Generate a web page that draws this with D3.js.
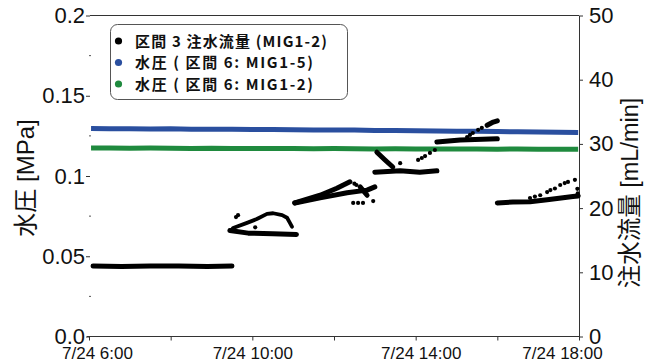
<!DOCTYPE html>
<html>
<head>
<meta charset="utf-8">
<script src="https://cdn.jsdelivr.net/npm/d3@7"></script>
<style>
  html, body { margin: 0; padding: 0; background: #fff; }
  svg { display: block; }
  text { font-family: "Liberation Sans", Arial, "Noto Sans CJK JP", sans-serif; fill: #111; }
</style>
</head>
<body>
<svg id="chart" width="646" height="362"></svg>
<script>
// ---- axis ticks and labels ----
const timeTicks = [6, 8, 10, 12, 14, 16, 18];               // hours on 7/24
const timeLabels = ["7/24 6:00", "", "7/24 10:00", "", "7/24 14:00", "", "7/24 18:00"];
const pressureTicks = [0, 0.05, 0.1, 0.15, 0.2];
const pressureLabels = ["0.0", "0.05", "0.1", "0.15", "0.2"];
const pressureMinor = [0.025, 0.075, 0.125, 0.175];
const flowTicks = [0, 10, 20, 30, 40, 50];

// ---- legend ----
const legendNames = ["区間 3 注水流量 (MIG1-2)", "水圧 ( 区間 6: MIG1-5)", "水圧 ( 区間 6: MIG1-2)"];

// ---- water pressure [MPa] ----
const pressureHours = [6.05, 6.5, 7.0, 7.5, 8.0, 8.5, 9.0, 9.5, 10.0, 10.5, 11.0, 11.5, 12.0,
                       12.5, 13.0, 13.5, 14.0, 14.5, 15.0, 15.5, 16.0, 16.5, 17.0, 17.5, 17.98];
const pressureMIG15 = [0.1296, 0.1295, 0.1295, 0.1293, 0.1294, 0.1292, 0.1291, 0.1291, 0.1289,
                       0.1290, 0.1288, 0.1287, 0.1286, 0.1286, 0.1284, 0.1283, 0.1282, 0.1281,
                       0.1279, 0.1279, 0.1277, 0.1275, 0.1274, 0.1272, 0.1271];
const pressureMIG12 = [0.1174, 0.1175, 0.1173, 0.1174, 0.1173, 0.1172, 0.1173, 0.1171, 0.1172,
                       0.1171, 0.1172, 0.1170, 0.1171, 0.1170, 0.1169, 0.1170, 0.1169, 0.1168,
                       0.1169, 0.1168, 0.1167, 0.1168, 0.1167, 0.1166, 0.1167];

// ---- injection flow rate [mL/min]: dense stretches ----
const flowRunHours = [
  [6.10, 6.8, 7.5, 8.2, 8.9, 9.50],
  [9.45, 9.9, 10.5, 11.08],
  [9.48, 9.53, 9.87, 10.11, 10.36, 10.51, 10.73, 10.85, 10.92, 10.97],
  [11.04, 11.66, 12.07, 12.39],
  [11.04, 11.66, 12.32, 12.81, 13.0],
  [12.64, 12.81],
  [13.0, 13.62, 14.1, 14.52],
  [13.05, 13.25, 13.44],
  [14.52, 15.09, 16.0],
  [15.75, 15.9, 16.0],
  [16.0, 16.38, 16.8, 17.22, 17.61, 17.85, 17.98]
];
const flowRunValues = [
  [11.0, 10.9, 11.0, 11.0, 10.9, 11.0],
  [16.5, 16.1, 16.0, 15.9],
  [16.5, 16.9, 17.7, 18.3, 19.1, 19.2, 18.9, 18.5, 17.7, 17.1],
  [20.8, 22.0, 23.1, 24.1],
  [20.8, 21.6, 22.4, 22.8, 23.3],
  [23.3, 22.0],
  [25.6, 25.8, 25.6, 25.8],
  [28.7, 27.5, 26.4],
  [30.3, 30.6, 30.8],
  [32.9, 33.4, 33.6],
  [20.8, 20.95, 21.0, 21.3, 21.6, 21.8, 21.9]
];
// the rising arch of the second stretch is a thinner trace
const thinRun = 2;

// ---- injection flow rate [mL/min]: sparse readings ----
const flowDotHours = [9.6, 9.65, 10.07,
  12.47, 12.59, 12.71, 12.96, 12.5, 12.55,
  13.62, 14.06, 14.15, 14.23, 14.35, 14.47,
  15.26, 15.33, 15.4, 15.53, 15.62,
  16.8, 16.92, 17.05, 17.22, 17.3, 17.41, 17.54, 17.65, 17.73, 17.9, 17.96, 17.97];
const flowDotValues = [18.6, 18.9, 17.0,
  20.8, 20.8, 20.8, 21.1, 23.8, 23.6,
  27.0, 27.5, 27.8, 28.1, 28.6, 29.05,
  31.07, 31.4, 31.7, 32.2, 32.5,
  21.57, 21.8, 22.0, 22.5, 22.8, 23.05, 23.6, 23.9, 24.07, 24.4, 23.0, 22.3];

// ---- layout ----
const plotL = 89, plotR = 579, plotT = 15.5, plotB = 336.5;
const colBlue = "#2a4f9f", colGreen = "#1f8a3e", colAxis = "#333";

const svg = d3.select("#chart");

const x = d3.scaleLinear().domain([6, 18]).range([plotL, plotR]);
const yP = d3.scaleLinear().domain([0, 0.2]).range([plotB, plotT]);
const yF = d3.scaleLinear().domain([0, 50]).range([plotB, plotT]);

// frame: top border and bottom time axis
svg.append("line").attr("x1", plotL + 1).attr("x2", plotR).attr("y1", plotT).attr("y2", plotT)
  .attr("stroke", colAxis).attr("stroke-width", 1);

const xAxis = d3.axisBottom(x).tickValues(timeTicks).tickSize(4).tickSizeOuter(0)
  .tickFormat((d, i) => timeLabels[i]);
const gx = svg.append("g").attr("transform", `translate(0,${plotB})`).call(xAxis);
gx.select(".domain").attr("stroke", colAxis).attr("d", `M${plotL - 2},0H${plotR}`);
gx.selectAll(".tick line").attr("stroke", colAxis);
const labelShift = [8, 0, 0, 0, 5, 0, -17];
gx.selectAll(".tick text").attr("font-size", 17).attr("y", 10).attr("dy", "0.71em")
  .attr("dx", (d, i) => labelShift[i])
  .style("font-family", '"Liberation Sans", Arial, sans-serif').attr("fill", "#111");

// left pressure axis (ticks only, no spine)
const yAxisL = d3.axisLeft(yP).tickValues(pressureTicks).tickSize(4)
  .tickFormat((d, i) => pressureLabels[i]);
const gl = svg.append("g").attr("transform", `translate(${plotL + 1},0)`).call(yAxisL);
gl.select(".domain").remove();
gl.selectAll(".tick line").attr("stroke", colAxis);
gl.selectAll(".tick text").attr("font-size", 22).attr("x", -5).attr("fill", "#111")
  .style("font-family", '"Liberation Sans", Arial, sans-serif');
svg.append("g").selectAll("line").data(pressureMinor).join("line")
  .attr("x1", plotL).attr("x2", plotL + 2)
  .attr("y1", d => yP(d)).attr("y2", d => yP(d))
  .attr("stroke", "#555").attr("stroke-width", 1);

// right flow axis
const yAxisR = d3.axisRight(yF).tickValues(flowTicks).tickSize(4).tickSizeOuter(0);
const gr = svg.append("g").attr("transform", `translate(${plotR},0)`).call(yAxisR);
gr.select(".domain").attr("stroke", colAxis);
gr.selectAll(".tick line").attr("stroke", colAxis);
gr.selectAll(".tick text").attr("font-size", 22).attr("x", 10).attr("fill", "#111")
  .style("font-family", '"Liberation Sans", Arial, sans-serif');

// axis titles
svg.append("text").attr("transform", `translate(34,178) rotate(-90)`)
  .attr("text-anchor", "middle").attr("font-size", 24).text("水圧 [MPa]");
svg.append("text").attr("transform", `translate(638,193) rotate(-90)`)
  .attr("text-anchor", "middle").attr("font-size", 23.5).text("注水流量 [mL/min]");

// pressure series
const linePressure = vals => d3.line()
  .x((d, i) => x(pressureHours[i])).y(d => yP(d))(vals);
svg.append("path").attr("d", linePressure(pressureMIG15))
  .attr("fill", "none").attr("stroke", colBlue).attr("stroke-width", 5);
svg.append("path").attr("d", linePressure(pressureMIG12))
  .attr("fill", "none").attr("stroke", colGreen).attr("stroke-width", 5);

// flow series
const gFlow = svg.append("g");
flowRunHours.forEach((hrs, k) => {
  const pts = hrs.map((h, i) => [x(h), yF(flowRunValues[k][i])]);
  gFlow.append("path").attr("d", d3.line()(pts))
    .attr("fill", "none").attr("stroke", "#000").attr("stroke-width", k === thinRun ? 3.8 : 5)
    .attr("stroke-linecap", "round").attr("stroke-linejoin", "round");
});
gFlow.selectAll("circle").data(flowDotHours).join("circle")
  .attr("cx", d => x(d)).attr("cy", (d, i) => yF(flowDotValues[i])).attr("r", 2.1)
  .attr("fill", "#000");

// legend
const lg = svg.append("g");
lg.append("rect").attr("x", 110.5).attr("y", 24.5).attr("width", 237).attr("height", 75)
  .attr("rx", 7).attr("fill", "#fff").attr("stroke", "#555").attr("stroke-width", 1);
const legendColors = ["#000", colBlue, colGreen];
const legendWidths = [192, 178, 178];
legendNames.forEach((name, i) => {
  const cy = 41 + i * 21.5;
  lg.append("circle").attr("cx", 118.5).attr("cy", cy).attr("r", 3.6).attr("fill", legendColors[i]);
  lg.append("text").attr("x", 135).attr("y", cy + 5.5).attr("font-size", 15)
    .attr("textLength", legendWidths[i]).attr("lengthAdjust", "spacing")
    .style("font-family", '"Noto Sans CJK JP", sans-serif').style("font-weight", 700)
    .text(name);
});
</script>
</body>
</html>
